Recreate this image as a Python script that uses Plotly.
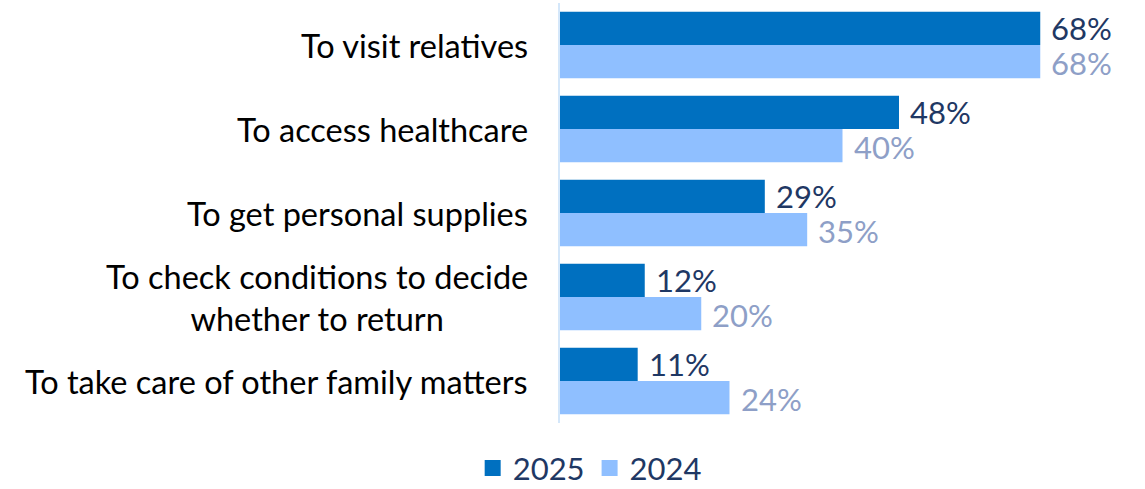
import plotly.graph_objects as go

categories = [
    "To visit relatives",
    "To access healthcare",
    "To get personal supplies",
    "To check conditions to decide<br>whether to return",
    "To take care of other family matters",
]
values_2025 = [68, 48, 29, 12, 11]
values_2024 = [68, 40, 35, 20, 24]

dark_blue = "#0070C0"
light_blue = "#8FBFFF"
label_2025 = "#1F3864"
label_2024 = "#8E9FC7"
font_family = "Lato, 'Open Sans', sans-serif"

fig = go.Figure()
fig.add_trace(go.Bar(
    y=categories, x=values_2025, orientation="h", name="2025",
    marker=dict(color=dark_blue, line=dict(width=0)), showlegend=False,
))
fig.add_trace(go.Bar(
    y=categories, x=values_2024, orientation="h", name="2024",
    marker=dict(color=light_blue, line=dict(width=0)), showlegend=False,
))
# legend entries with larger square swatches
for name, color in [("2025", dark_blue), ("2024", light_blue)]:
    fig.add_trace(go.Scatter(
        x=[None], y=[None], mode="markers", name=name,
        marker=dict(symbol="square", size=18, color=color),
    ))

annotations = []
# value labels to the right of each bar
for cat, v in zip(categories, values_2025):
    annotations.append(dict(
        x=v, y=cat, xref="x", yref="y", text=f"{v}%", showarrow=False,
        xanchor="left", yanchor="middle", xshift=9, yshift=17,
        font=dict(size=31, color=label_2025, family=font_family),
    ))
for cat, v in zip(categories, values_2024):
    annotations.append(dict(
        x=v, y=cat, xref="x", yref="y", text=f"{v}%", showarrow=False,
        xanchor="left", yanchor="middle", xshift=9, yshift=-18,
        font=dict(size=31, color=label_2024, family=font_family),
    ))
# category labels, centred line by line
for cat in categories:
    annotations.append(dict(
        x=0, y=cat, xref="paper", yref="y", text=cat, showarrow=False,
        xanchor="right", yanchor="middle", align="center", xshift=-30,
        font=dict(size=32.5, color="#000000", family=font_family),
    ))

fig.update_layout(
    width=1145, height=489,
    margin=dict(l=560, r=20, t=3, b=66, autoexpand=False),
    paper_bgcolor="white", plot_bgcolor="white",
    barmode="group", bargap=0.21, bargroupgap=0,
    font=dict(family=font_family, size=32, color=label_2025),
    showlegend=True,
    legend=dict(
        orientation="h", xref="container", x=0.515, xanchor="center",
        yref="container", y=0.042, yanchor="middle",
        font=dict(size=31, color=label_2025, family=font_family),
        itemwidth=30, traceorder="normal", itemsizing="trace",
    ),
    annotations=annotations,
)
fig.update_xaxes(range=[0, 80], visible=False, showgrid=False, zeroline=False)
fig.update_yaxes(
    autorange="reversed", showticklabels=False, ticks="",
    showline=True, linecolor="#D4E7FA", linewidth=2, showgrid=False,
)

fig.write_html("out.html")
